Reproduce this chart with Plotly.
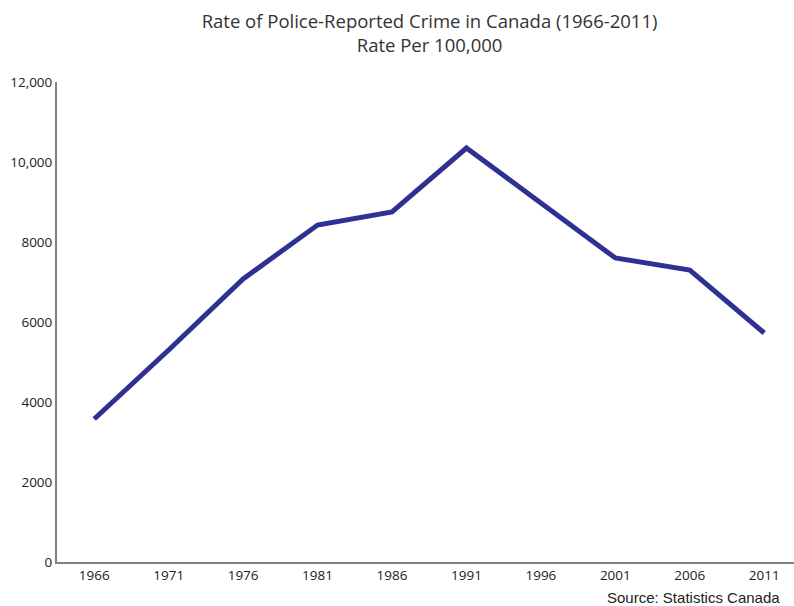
import plotly.graph_objects as go

years = ["1966", "1971", "1976", "1981", "1986", "1991", "1996", "2001", "2006", "2011"]
rates = [3575, 5300, 7075, 8425, 8750, 10350, 8975, 7600, 7300, 5725]
ytick_vals = [0, 2000, 4000, 6000, 8000, 10000, 12000]
ytick_text = ["0", "2000", "4000", "6000", "8000", "10,000", "12,000"]

fig = go.Figure()
fig.add_trace(go.Scatter(
    x=list(range(len(years))), y=rates, mode="lines",
    line=dict(color="#2e3192", width=5), hoverinfo="skip"
))

fig.update_layout(
    width=794, height=606,
    margin=dict(l=57, r=0, t=82, b=44),
    paper_bgcolor="white", plot_bgcolor="white",
    showlegend=False,
    font=dict(family="Open Sans", color="#333333"),
    title=dict(
        text="Rate of Police-Reported Crime in Canada (1966-2011)<br>Rate Per 100,000",
        x=0.541, xanchor="center", yref="container", y=1 - 28 / 606, yanchor="middle",
        font=dict(size=18.5, color="#333333", family="Open Sans"),
    ),
    xaxis=dict(
        tickmode="array", tickvals=list(range(len(years))), ticktext=years,
        range=[-0.5, 9.4], showgrid=False, zeroline=False,
        showline=True, linecolor="#808080", linewidth=2,
        ticks="", tickfont=dict(size=13.5, color="#222222"),
    ),
    yaxis=dict(
        tickmode="array", tickvals=ytick_vals, ticktext=ytick_text,
        range=[0, 12000], showgrid=False, zeroline=False,
        showline=True, linecolor="#808080", linewidth=2,
        ticks="", tickfont=dict(size=13.5, color="#222222"),
    ),
)

fig.add_annotation(
    text="Source: Statistics Canada", xref="paper", yref="paper",
    x=(781 - 57) / 737, y=-0.074, xanchor="right", yanchor="middle",
    showarrow=False, borderpad=0,
    font=dict(family="Liberation Sans", size=15, color="#222222"),
)

fig.write_html("out.html")
